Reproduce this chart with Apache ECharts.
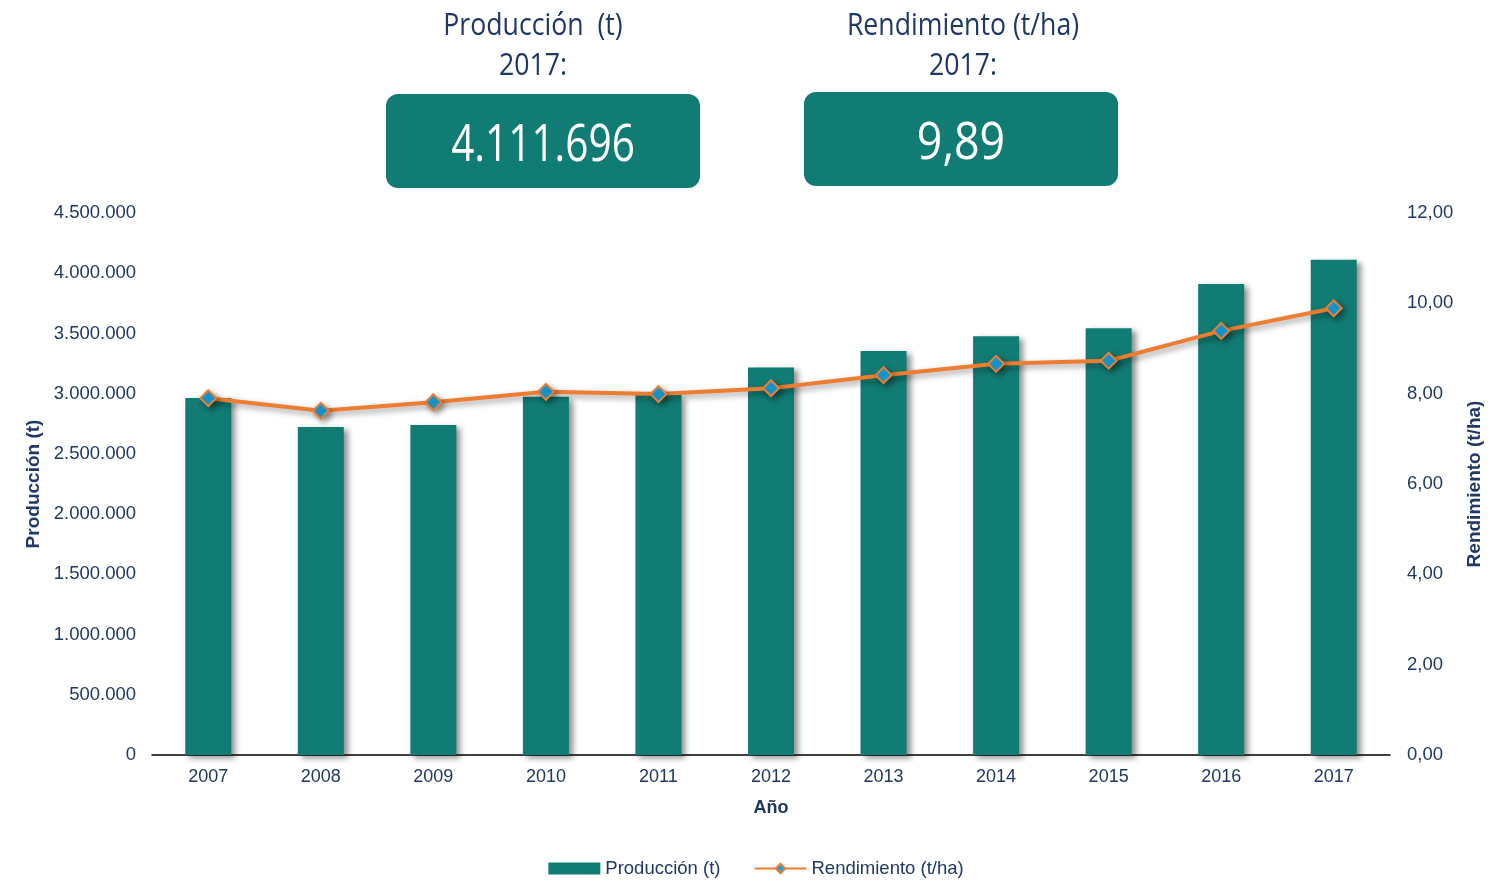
<!DOCTYPE html>
<html>
<head>
<meta charset="utf-8">
<script src="https://cdn.jsdelivr.net/npm/echarts@6/dist/echarts.min.js"></script>
<style>html,body{margin:0;padding:0;background:#fff}#c{width:1512px;height:880px}</style>
</head>
<body>
<div id="c"></div>
<script>
var years = ['2007','2008','2009','2010','2011','2012','2013','2014','2015','2016','2017'];
var produccion = [2965000, 2723000, 2740000, 2975000, 2990000, 3218000, 3354000, 3476000, 3543000, 3911000, 4111696];
var rendimiento = [7.90, 7.62, 7.81, 8.04, 7.99, 8.12, 8.41, 8.66, 8.73, 9.39, 9.89];
var leftTicks = {min: 0, max: 4500000, interval: 500000};
var rightTicks = {min: 0, max: 12, interval: 2};

var navy = '#1F3864';
var teal = '#117C74';
var orange = '#ED7D31';
var headFont = '"Open Sans", sans-serif';
var axisFont = '"Liberation Sans", Arial, sans-serif';

function fmtThousands(v) {
  return String(Math.round(v)).replace(/\B(?=(\d{3})+(?!\d))/g, '.');
}
function fmtDec(v) {
  return v.toFixed(2).replace('.', ',');
}

var lastProd = fmtThousands(produccion[produccion.length - 1]);
var lastRend = fmtDec(rendimiento[rendimiento.length - 1]);
var lastYear = years[years.length - 1];

function headText(x, y, text, size, color, sx) {
  return {
    type: 'text', x: x, y: y, scaleX: sx, z: 20,
    style: {x: 0, y: 0, text: text, textAlign: 'center', textVerticalAlign: 'middle', fill: color, font: size + 'px ' + headFont}
  };
}

var chart = echarts.init(document.getElementById('c'), null, {renderer: 'canvas'});
chart.setOption({
  animation: false,
  textStyle: {fontFamily: axisFont},
  grid: {left: 152, right: 122, top: 213, bottom: 125},
  legend: {
    top: 854,
    left: 'center',
    itemWidth: 52,
    itemHeight: 12,
    itemGap: 33,
    textStyle: {color: navy, fontSize: 18.5, fontFamily: axisFont},
    data: [
      {name: 'Producción (t)', icon: 'rect'},
      {name: 'Rendimiento (t/ha)'}
    ]
  },
  graphic: [
    headText(533, 26, 'Producción  (t)', 31, navy, 0.86),
    headText(533, 66, lastYear + ':', 31, navy, 0.86),
    headText(963, 26, 'Rendimiento (t/ha)', 31, navy, 0.86),
    headText(963, 66, lastYear + ':', 31, navy, 0.86),
    {type: 'rect', shape: {x: 386, y: 94, width: 314, height: 94, r: 12}, style: {fill: teal}, z: 10},
    {type: 'rect', shape: {x: 804, y: 92, width: 314, height: 94, r: 12}, style: {fill: teal}, z: 10},
    headText(543, 146, lastProd, 52, '#fff', 0.78),
    headText(961, 144, lastRend, 52, '#fff', 0.86)
  ],
  xAxis: {
    type: 'category',
    data: years,
    name: 'Año',
    nameLocation: 'middle',
    nameGap: 44,
    nameTextStyle: {color: navy, fontSize: 18, fontWeight: 'bold', fontFamily: axisFont},
    axisLine: {lineStyle: {color: '#000', width: 1.5}},
    axisTick: {show: false},
    axisLabel: {color: navy, fontSize: 18, margin: 13, fontFamily: axisFont}
  },
  yAxis: [
    {
      type: 'value',
      min: leftTicks.min, max: leftTicks.max, interval: leftTicks.interval,
      name: 'Producción (t)',
      nameLocation: 'middle',
      nameGap: 106,
      nameRotate: 90,
      nameTextStyle: {color: navy, fontSize: 19, fontWeight: 'bold', fontFamily: axisFont},
      axisLine: {show: false},
      axisTick: {show: false},
      splitLine: {show: false},
      axisLabel: {color: navy, fontSize: 18.5, margin: 16, formatter: fmtThousands, fontFamily: axisFont}
    },
    {
      type: 'value',
      min: rightTicks.min, max: rightTicks.max, interval: rightTicks.interval,
      name: 'Rendimiento (t/ha)',
      nameLocation: 'middle',
      nameGap: 75,
      nameRotate: 90,
      nameTextStyle: {color: navy, fontSize: 19, fontWeight: 'bold', fontFamily: axisFont},
      axisLine: {show: false},
      axisTick: {show: false},
      splitLine: {show: false},
      axisLabel: {color: navy, fontSize: 18.5, margin: 17, formatter: fmtDec, fontFamily: axisFont}
    }
  ],
  series: [
    {
      name: 'Producción (t)',
      type: 'bar',
      data: produccion,
      barWidth: 46,
      itemStyle: {
        color: teal,
        shadowColor: 'rgba(0,0,0,0.45)',
        shadowBlur: 6,
        shadowOffsetX: 4,
        shadowOffsetY: 3
      }
    },
    {
      name: 'Rendimiento (t/ha)',
      type: 'line',
      yAxisIndex: 1,
      data: rendimiento,
      symbol: 'diamond',
      symbolSize: 16,
      lineStyle: {
        color: orange,
        width: 4,
        shadowColor: 'rgba(0,0,0,0.4)',
        shadowBlur: 6,
        shadowOffsetX: 3,
        shadowOffsetY: 3
      },
      itemStyle: {
        color: '#15A5E0',
        borderColor: orange,
        borderWidth: 2,
        shadowColor: 'rgba(0,0,0,0.4)',
        shadowBlur: 6,
        shadowOffsetX: 3,
        shadowOffsetY: 3
      },
      z: 5
    }
  ]
});
</script>
</body>
</html>
